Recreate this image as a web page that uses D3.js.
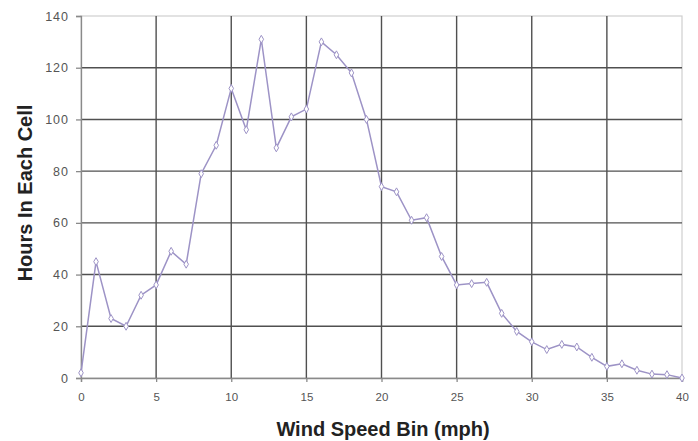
<!DOCTYPE html>
<html lang="en">
<head>
<meta charset="utf-8">
<script src="https://d3js.org/d3.v7.min.js"></script>
<style>
  body { margin: 0; background: #fff; }
  text { font-family: "Liberation Sans", Arial, sans-serif; }
</style>
</head>
<body>
<script>
// wind speed bins (mph) and hours counted in each
var bins = [0, 1, 2, 3, 4, 5, 6, 7, 8, 9, 10, 11, 12, 13, 14, 15, 16, 17, 18, 19, 20,
            21, 22, 23, 24, 25, 26, 27, 28, 29, 30, 31, 32, 33, 34, 35, 36, 37, 38, 39, 40];
var hours = [2, 45, 23, 20, 32, 36, 49, 44, 79, 90, 112, 96, 131, 89, 101, 104, 130, 125, 118, 100, 74,
             72, 61, 62, 47, 36, 36.5, 37, 25, 18, 14, 11, 13, 12, 8, 4.5, 5.5, 3, 1.5, 1.3, 0];
var xTicks = [0, 5, 10, 15, 20, 25, 30, 35, 40];
var yTicks = [0, 20, 40, 60, 80, 100, 120, 140];

var width = 698, height = 441;
var margin = {top: 16, right: 16, bottom: 63, left: 81};
var w = width - margin.left - margin.right;
var h = height - margin.top - margin.bottom;

var svg = d3.select("body").append("svg")
  .attr("width", width)
  .attr("height", height);

var g = svg.append("g")
  .attr("transform", "translate(" + margin.left + "," + margin.top + ")");

var x = d3.scaleLinear().domain([0, 40]).range([0, w]);
var y = d3.scaleLinear().domain([0, 140]).range([h, 0]);

// plot frame (light)
g.append("rect")
  .attr("width", w).attr("height", h)
  .attr("fill", "none")
  .attr("stroke", "#cfcfcf")
  .attr("stroke-width", 1.2);

// grid lines
g.selectAll(".hgrid")
  .data(yTicks.filter(function(d) { return d > 0 && d < 140; }))
  .enter().append("line")
  .attr("x1", 0).attr("x2", w)
  .attr("y1", function(d) { return y(d); })
  .attr("y2", function(d) { return y(d); })
  .attr("stroke", "#505050").attr("stroke-width", 1.4);

g.selectAll(".vgrid")
  .data(xTicks.filter(function(d) { return d > 0 && d < 40; }))
  .enter().append("line")
  .attr("y1", 0).attr("y2", h)
  .attr("x1", function(d) { return x(d); })
  .attr("x2", function(d) { return x(d); })
  .attr("stroke", "#505050").attr("stroke-width", 1.4);

// axes
var xAxis = g.append("g")
  .attr("transform", "translate(0," + h + ")")
  .call(d3.axisBottom(x).tickValues(xTicks).tickSize(4).tickPadding(11));
var yAxis = g.append("g")
  .call(d3.axisLeft(y).tickValues(yTicks).tickSize(5).tickPadding(7));

[xAxis, yAxis].forEach(function(a) {
  a.select(".domain").attr("stroke", "#8a8a8a").attr("stroke-width", 1.3);
  a.selectAll(".tick line").attr("stroke", "#8a8a8a").attr("stroke-width", 1.3);
  a.selectAll(".tick text")
    .attr("fill", "#555")
    .style("font-family", "'Liberation Sans', Arial, sans-serif");
});
xAxis.selectAll(".tick text").style("font-size", "11.5px");
yAxis.selectAll(".tick text").style("font-size", "12.5px").style("letter-spacing", "1px");

// data line
var line = d3.line()
  .x(function(d, i) { return x(bins[i]); })
  .y(function(d) { return y(d); });

g.append("path")
  .datum(hours)
  .attr("d", line)
  .attr("fill", "none")
  .attr("stroke", "#9d93c6")
  .attr("stroke-width", 1.5);

// diamond markers
g.selectAll(".pt")
  .data(hours)
  .enter().append("path")
  .attr("d", d3.symbol().type(d3.symbolDiamond).size(18))
  .attr("transform", function(d, i) {
    return "translate(" + x(bins[i]) + "," + y(d) + ")";
  })
  .attr("fill", "#fff")
  .attr("stroke", "#9d93c6")
  .attr("stroke-width", 1);

// axis titles
svg.append("text")
  .attr("x", 383)
  .attr("y", 436)
  .attr("text-anchor", "middle")
  .attr("fill", "#222")
  .style("font-size", "20px")
  .style("font-weight", "bold")
  .text("Wind Speed Bin (mph)");

svg.append("text")
  .attr("transform", "translate(31.5,193) rotate(-90)")
  .attr("text-anchor", "middle")
  .attr("fill", "#222")
  .style("font-size", "20px")
  .style("font-weight", "bold")
  .text("Hours In Each Cell");
</script>
</body>
</html>
